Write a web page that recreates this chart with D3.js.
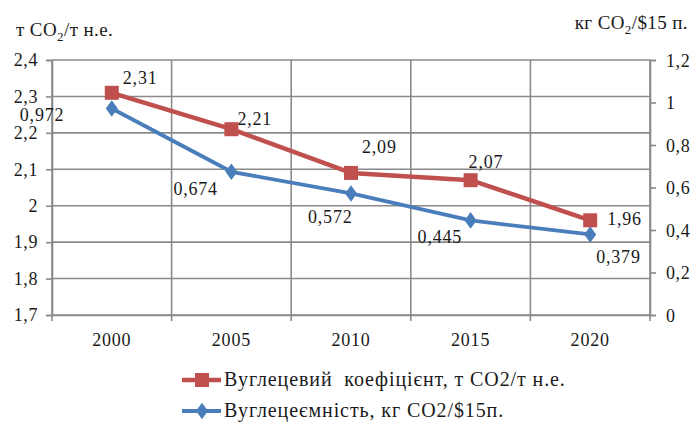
<!DOCTYPE html>
<html>
<head>
<meta charset="utf-8">
<script src="https://cdn.jsdelivr.net/npm/d3@7/dist/d3.min.js"></script>
<style>
  html, body { margin: 0; padding: 0; background: #fff; }
  svg { display: block; }
</style>
</head>
<body>
<svg id="chart" width="695" height="428"></svg>
<script>
// Years on the horizontal axis
const years = ["2000", "2005", "2010", "2015", "2020"];
// Carbon coefficient, t CO2 per t of oil equivalent (left axis)
const carbonCoef = [2.31, 2.21, 2.09, 2.07, 1.96];
// Carbon intensity, kg CO2 per $2015 of GDP (right axis)
const carbonIntensity = [0.972, 0.674, 0.572, 0.445, 0.379];
// Axis ticks
const leftTicks = [1.7, 1.8, 1.9, 2.0, 2.1, 2.2, 2.3, 2.4];
const rightTicks = [0, 0.2, 0.4, 0.6, 0.8, 1.0, 1.2];
// Legend entries
const legendNames = ["Вуглецевий  коефіцієнт, т CO2/т н.е.", "Вуглецеємність, кг CO2/$15п."];

// Label placement relative to each point (dx, dy)
const coefLabelOffset = [[11, -9], [6, -4], [11, -20], [-2, -12], [17, 5]];
const intensLabelOffset = [[-92, 13], [-58, 23], [-43, 30], [-53, 23], [6, 29]];

const RED = "#c0504d", BLUE = "#4a7ebb", GRID = "#8a8a8a", INK = "#1a1a1a";
const FONT = "'Liberation Serif'";
const fmt = v => String(v).replace(".", ",");

const svg = d3.select("#chart");
const plotL = 52, plotR = 650, plotT = 60, plotB = 315;

const x = d3.scaleBand().domain(years).range([plotL, plotR]).padding(0);
const yL = d3.scaleLinear().domain([1.7, 2.4]).range([plotB, plotT]);
const yR = d3.scaleLinear().domain([0, 1.2]).range([plotB, plotT]);
const cx = d => x(d) + x.bandwidth() / 2;

const styleText = sel => sel.style("font-family", FONT).attr("fill", INK);

// Horizontal gridlines
svg.append("g").selectAll("line").data(leftTicks).join("line")
  .attr("x1", plotL).attr("x2", plotR)
  .attr("y1", d => yL(d)).attr("y2", d => yL(d))
  .attr("stroke", GRID).attr("stroke-width", 1.6);

// Vertical gridlines at category boundaries
const bounds = years.map(d => x(d)).concat([plotR]);
svg.append("g").selectAll("line").data(bounds).join("line")
  .attr("x1", d => d).attr("x2", d => d)
  .attr("y1", plotT).attr("y2", plotB + 6)
  .attr("stroke", GRID).attr("stroke-width", 1.6);

// Left axis
const axL = svg.append("g").attr("transform", `translate(${plotL},0)`)
  .call(d3.axisLeft(yL).tickValues(leftTicks).tickSize(6).tickPadding(8).tickFormat(d => fmt(+d.toFixed(1))));
axL.select(".domain").attr("stroke", GRID).attr("stroke-width", 1.6);
axL.selectAll(".tick line").attr("stroke", GRID).attr("stroke-width", 1.6);
axL.selectAll("text").attr("font-size", 18).attr("letter-spacing", 0.6).attr("dy", "0.32em").call(styleText);

// Right axis
const axR = svg.append("g").attr("transform", `translate(${plotR},0)`)
  .call(d3.axisRight(yR).tickValues(rightTicks).tickSize(6).tickPadding(10).tickFormat(d => fmt(+d.toFixed(1))));
axR.select(".domain").attr("stroke", GRID).attr("stroke-width", 1.6);
axR.selectAll(".tick line").attr("stroke", GRID).attr("stroke-width", 1.6);
axR.selectAll("text").attr("font-size", 18).attr("letter-spacing", 0.6).attr("dy", "0.36em").call(styleText);

// Bottom axis labels
const axB = svg.append("g").attr("transform", `translate(0,${plotB})`)
  .call(d3.axisBottom(x).tickSize(0).tickPadding(18));
axB.select(".domain").attr("stroke", GRID).attr("stroke-width", 1.6);
axB.selectAll("text").attr("font-size", 18).attr("letter-spacing", 0.8).call(styleText);

// Axis titles
const tl = svg.append("text").attr("x", 16).attr("y", 36).attr("font-size", 19).attr("letter-spacing", 0.4).call(styleText);
tl.append("tspan").text("т CO");
tl.append("tspan").attr("font-size", 13).attr("dy", 5).text("2");
tl.append("tspan").attr("dy", -5).text("/т н.е.");
const tr = svg.append("text").attr("x", 688).attr("y", 29).attr("font-size", 19).attr("letter-spacing", 0.4)
  .attr("text-anchor", "end").call(styleText);
tr.append("tspan").text("кг CO");
tr.append("tspan").attr("font-size", 13).attr("dy", 5).text("2");
tr.append("tspan").attr("dy", -5).text("/$15 п.");

// Series lines
const lineL = d3.line().x((d, i) => cx(years[i])).y(d => yL(d));
const lineR = d3.line().x((d, i) => cx(years[i])).y(d => yR(d));

svg.append("path").datum(carbonIntensity).attr("d", lineR)
  .attr("fill", "none").attr("stroke", BLUE).attr("stroke-width", 3.8).attr("stroke-linejoin", "round");
svg.append("path").datum(carbonCoef).attr("d", lineL)
  .attr("fill", "none").attr("stroke", RED).attr("stroke-width", 4.5).attr("stroke-linejoin", "round");

// Markers
const diamond = d3.symbol().type(d3.symbolDiamond).size(80);
svg.append("g").selectAll("path").data(carbonIntensity).join("path")
  .attr("d", diamond)
  .attr("transform", (d, i) => `translate(${cx(years[i])},${yR(d)}) scale(1.25,1)`)
  .attr("fill", BLUE);
svg.append("g").selectAll("rect").data(carbonCoef).join("rect")
  .attr("x", (d, i) => cx(years[i]) - 7).attr("y", d => yL(d) - 7)
  .attr("width", 14).attr("height", 14).attr("fill", RED);

// Data labels
svg.append("g").selectAll("text").data(carbonCoef).join("text")
  .attr("x", (d, i) => cx(years[i]) + coefLabelOffset[i][0])
  .attr("y", (d, i) => yL(d) + coefLabelOffset[i][1])
  .attr("font-size", 18).attr("letter-spacing", 0.8).call(styleText)
  .text(d => fmt(d));
svg.append("g").selectAll("text").data(carbonIntensity).join("text")
  .attr("x", (d, i) => cx(years[i]) + intensLabelOffset[i][0])
  .attr("y", (d, i) => yR(d) + intensLabelOffset[i][1])
  .attr("font-size", 18).attr("letter-spacing", 0.8).call(styleText)
  .text(d => fmt(d));

// Legend
const legend = svg.append("g");
const legColors = [RED, BLUE];
legendNames.forEach((name, i) => {
  const ly = 380 + i * 31;
  legend.append("line").attr("x1", 182).attr("x2", 221).attr("y1", ly).attr("y2", ly)
    .attr("stroke", legColors[i]).attr("stroke-width", i === 0 ? 4.5 : 3.8);
  if (i === 0) {
    legend.append("rect").attr("x", 195).attr("y", ly - 7).attr("width", 14).attr("height", 14).attr("fill", RED);
  } else {
    legend.append("path").attr("d", diamond).attr("transform", `translate(202,${ly}) scale(1.25,1)`).attr("fill", BLUE);
  }
  legend.append("text").attr("x", 224).attr("y", ly + 6).attr("font-size", 20).attr("letter-spacing", 0.9)
    .call(styleText).style("white-space", "pre").text(name);
});
</script>
</body>
</html>
